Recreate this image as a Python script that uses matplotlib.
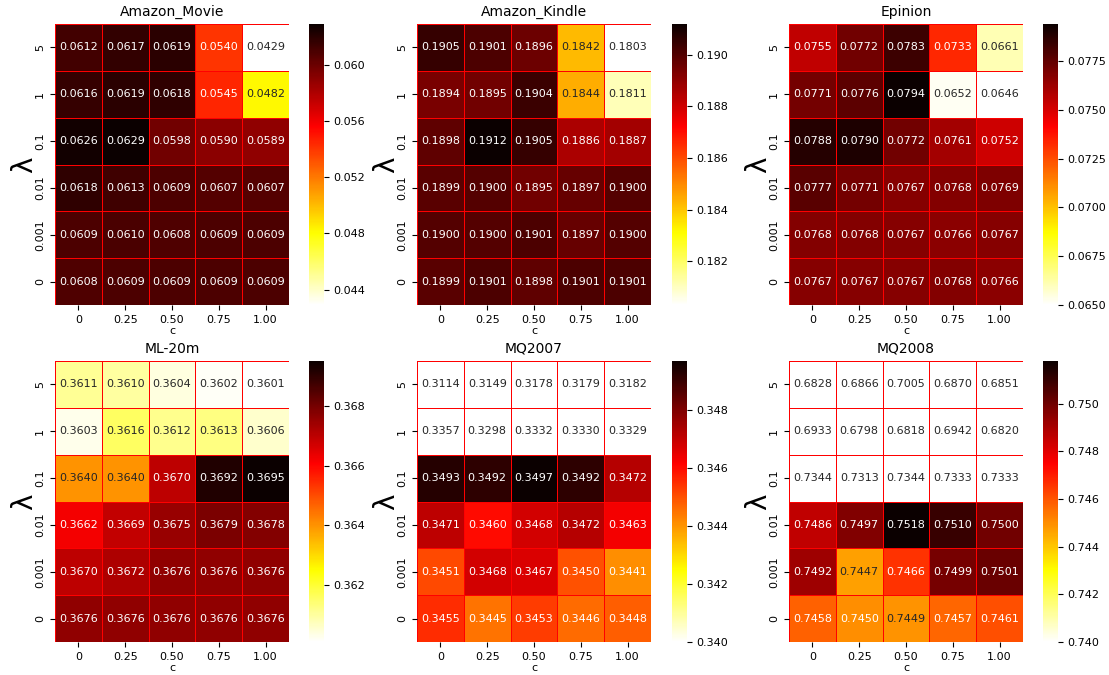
import numpy as np
import matplotlib
matplotlib.use("Agg")
import matplotlib.pyplot as plt
from matplotlib.ticker import MultipleLocator, FormatStrFormatter
import seaborn as sns

c_labels = ["0", "0.25", "0.50", "0.75", "1.00"]
lambda_labels = ["5", "1", "0.1", "0.01", "0.001", "0"]

titles = ["Amazon_Movie", "Amazon_Kindle", "Epinion", "ML-20m", "MQ2007", "MQ2008"]

amazon_movie = [
    [0.0612, 0.0617, 0.0619, 0.0540, 0.0429],
    [0.0616, 0.0619, 0.0618, 0.0545, 0.0482],
    [0.0626, 0.0629, 0.0598, 0.0590, 0.0589],
    [0.0618, 0.0613, 0.0609, 0.0607, 0.0607],
    [0.0609, 0.0610, 0.0608, 0.0609, 0.0609],
    [0.0608, 0.0609, 0.0609, 0.0609, 0.0609],
]
amazon_kindle = [
    [0.1905, 0.1901, 0.1896, 0.1842, 0.1803],
    [0.1894, 0.1895, 0.1904, 0.1844, 0.1811],
    [0.1898, 0.1912, 0.1905, 0.1886, 0.1887],
    [0.1899, 0.1900, 0.1895, 0.1897, 0.1900],
    [0.1900, 0.1900, 0.1901, 0.1897, 0.1900],
    [0.1899, 0.1901, 0.1898, 0.1901, 0.1901],
]
epinion = [
    [0.0755, 0.0772, 0.0783, 0.0733, 0.0661],
    [0.0771, 0.0776, 0.0794, 0.0652, 0.0646],
    [0.0788, 0.0790, 0.0772, 0.0761, 0.0752],
    [0.0777, 0.0771, 0.0767, 0.0768, 0.0769],
    [0.0768, 0.0768, 0.0767, 0.0766, 0.0767],
    [0.0767, 0.0767, 0.0767, 0.0768, 0.0766],
]
ml_20m = [
    [0.3611, 0.3610, 0.3604, 0.3602, 0.3601],
    [0.3603, 0.3616, 0.3612, 0.3613, 0.3606],
    [0.3640, 0.3640, 0.3670, 0.3692, 0.3695],
    [0.3662, 0.3669, 0.3675, 0.3679, 0.3678],
    [0.3670, 0.3672, 0.3676, 0.3676, 0.3676],
    [0.3676, 0.3676, 0.3676, 0.3676, 0.3676],
]
mq2007 = [
    [0.3114, 0.3149, 0.3178, 0.3179, 0.3182],
    [0.3357, 0.3298, 0.3332, 0.3330, 0.3329],
    [0.3493, 0.3492, 0.3497, 0.3492, 0.3472],
    [0.3471, 0.3460, 0.3468, 0.3472, 0.3463],
    [0.3451, 0.3468, 0.3467, 0.3450, 0.3441],
    [0.3455, 0.3445, 0.3453, 0.3446, 0.3448],
]
mq2008 = [
    [0.6828, 0.6866, 0.7005, 0.6870, 0.6851],
    [0.6933, 0.6798, 0.6818, 0.6942, 0.6820],
    [0.7344, 0.7313, 0.7344, 0.7333, 0.7333],
    [0.7486, 0.7497, 0.7518, 0.7510, 0.7500],
    [0.7492, 0.7447, 0.7466, 0.7499, 0.7501],
    [0.7458, 0.7450, 0.7449, 0.7457, 0.7461],
]

datasets = [amazon_movie, amazon_kindle, epinion, ml_20m, mq2007, mq2008]
vmins = [None, None, 0.065, None, 0.340, 0.740]
cbar_steps = [0.004, 0.002, 0.0025, 0.002, 0.002, 0.002]
cbar_fmts = ["%.3f", "%.3f", "%.4f", "%.3f", "%.3f", "%.3f"]

W, H = 1109, 675
fig = plt.figure(figsize=(W / 100, H / 100), dpi=100)

hm_left = [55, 417, 789]
cb_left = [309, 672, 1043]
row_top = [24, 361]
hm_w, cb_w, row_h = 234, 15, 281

for i, (title, data, vmin) in enumerate(zip(titles, datasets, vmins)):
    r, col = divmod(i, 3)
    bottom = 1 - (row_top[r] + row_h) / H
    ax = fig.add_axes([hm_left[col] / W, bottom, hm_w / W, row_h / H])
    cax = fig.add_axes([cb_left[col] / W, bottom, cb_w / W, row_h / H])
    sns.heatmap(np.array(data), ax=ax, cbar_ax=cax, annot=True, fmt=".4f",
                cmap="hot_r", linewidths=0.7, linecolor="red", vmin=vmin,
                xticklabels=c_labels, yticklabels=lambda_labels,
                annot_kws={"fontsize": 8})
    ax.set_title(title, fontsize=10)
    ax.set_xlabel("c", fontsize=8, labelpad=1)
    ax.set_ylabel("λ", fontsize=20, labelpad=-2)
    ax.tick_params(axis="both", labelsize=8)
    plt.setp(ax.get_yticklabels(), rotation=90, va="center")
    plt.setp(ax.get_xticklabels(), rotation=0)
    cax.yaxis.set_major_locator(MultipleLocator(cbar_steps[i]))
    cax.yaxis.set_major_formatter(FormatStrFormatter(cbar_fmts[i]))
    cax.tick_params(labelsize=8)
    ax.collections[0].colorbar.outline.set_visible(False)

fig.savefig("out.png", dpi=100)
